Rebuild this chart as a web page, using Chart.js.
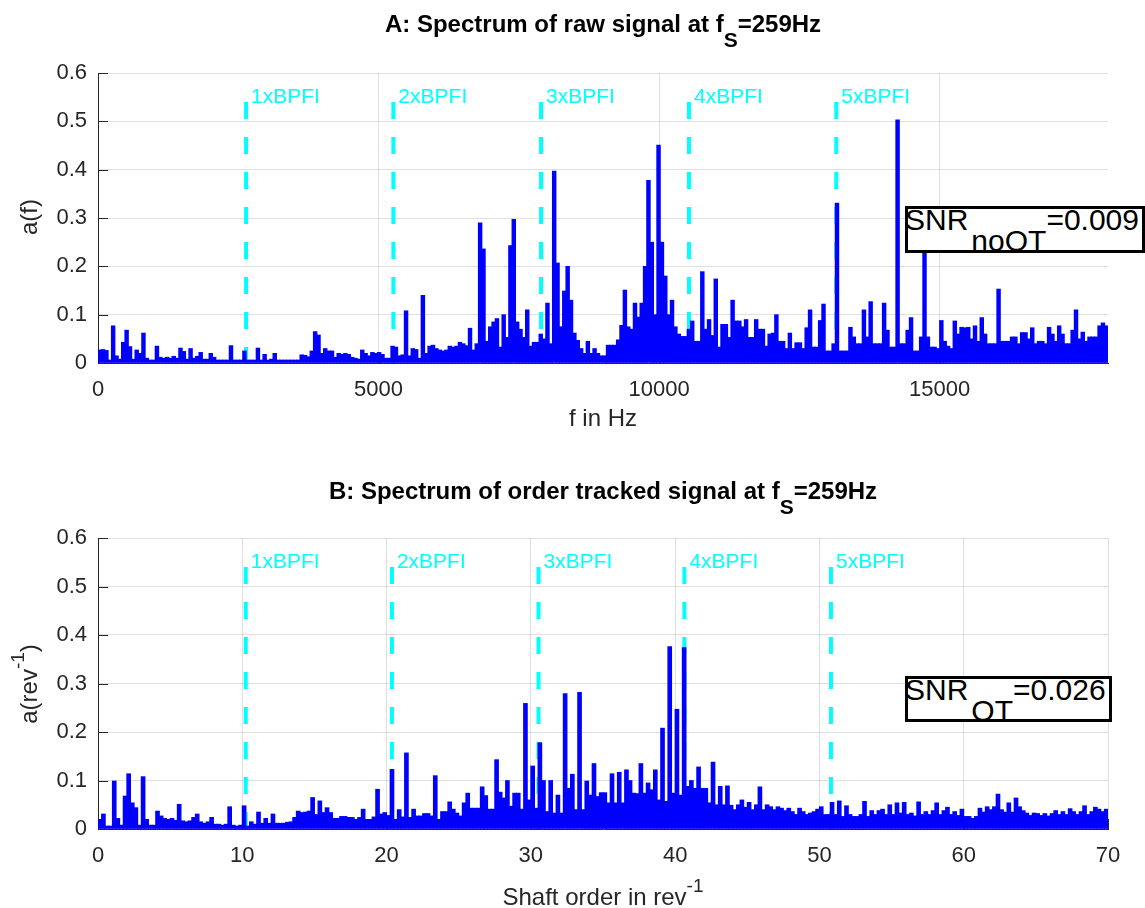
<!DOCTYPE html>
<html>
<head>
<meta charset="utf-8">
<script src="https://cdn.jsdelivr.net/npm/chart.js"></script>
<style>
  body { margin: 0; background: #fff; }
  #page { position: relative; width: 1145px; height: 908px; overflow: hidden; background: #fff;
          font-family: "Liberation Sans", Arial, sans-serif; }
  canvas { position: absolute; left: 0; }
  .title { position: absolute; left: 98px; width: 1010px; text-align: center; font: bold 24px/24px "Liberation Sans", Arial, sans-serif; color: #000; white-space: nowrap; }
  .title .sub { font-size: 21px; position: relative; top: 15px; }
  .xlabel { position: absolute; left: 98px; width: 1010px; text-align: center; font: 24px/24px "Liberation Sans", Arial, sans-serif; color: #262626; white-space: nowrap; }
  .ylabel { position: absolute; width: 300px; height: 24px; text-align: center; font: 24px/24px "Liberation Sans", Arial, sans-serif; color: #262626; transform: rotate(-90deg); white-space: nowrap; }
  .sup { font-size: 19px; position: relative; top: -13px; }
  .snr { position: absolute; box-sizing: border-box; border: 3px solid #000; background: #fff; overflow: hidden; }
  .snr div { position: absolute; left: -3px; top: -4px; font: 30px/30px "Liberation Sans", Arial, sans-serif; color: #000; white-space: nowrap; }
  .snr span { position: relative; top: 21px; margin-left: 3px; }
</style>
</head>
<body>
<div id="page">
  <canvas id="rawChart" width="1145" height="454" style="top:0"></canvas>
  <canvas id="otChart" width="1145" height="454" style="top:454px"></canvas>

  <div class="title" style="top:12px">A: Spectrum of raw signal at f<span class="sub">S</span>=259Hz</div>
  <div class="xlabel" style="top:406px">f in Hz</div>
  <div class="ylabel" style="left:-121px; top:205px">a(f)</div>
  <div class="snr" style="left:905px; top:206px; width:240px; height:47px"><div>SNR<span>noOT</span>=0.009</div></div>

  <div class="title" style="top:479px">B: Spectrum of order tracked signal at f<span class="sub">S</span>=259Hz</div>
  <div class="xlabel" style="top:885px">Shaft order in rev<span class="sup">-1</span></div>
  <div class="ylabel" style="left:-121px; top:672px">a(rev<span class="sup">-1</span>)</div>
  <div class="snr" style="left:905px; top:676px; width:207px; height:46px"><div>SNR<span>OT</span>=0.026</div></div>
</div>

<script>
// --- data ---
const rawBinHz = 60;          // width of one spectrum bin, Hz
const rawMaxHz = 18000;
const rawTicksHz = [0, 5000, 10000, 15000];
const rawAmp = [
  0.027, 0.028, 0.026, 0.006, 0.077, 0.015, 0.008, 0.043, 0.068, 0.034,
  0.008, 0.027, 0.02, 0.062, 0.01, 0.004, 0.006, 0.035, 0.012, 0.01,
  0.012, 0.01, 0.014, 0.01, 0.031, 0.024, 0.008, 0.03, 0.01, 0.014,
  0.022, 0.008, 0.008, 0.02, 0.012, 0.006, 0.004, 0.003, 0.003, 0.036,
  0.004, 0.003, 0.003, 0.025, 0.003, 0.005, 0.004, 0.031, 0.006, 0.018,
  0.005, 0.008, 0.02, 0.004, 0.003, 0.003, 0.003, 0.004, 0.003, 0.004,
  0.017, 0.016, 0.013, 0.025, 0.065, 0.058, 0.02, 0.03, 0.025, 0.025,
  0.012, 0.02, 0.018, 0.02, 0.018, 0.012, 0.01, 0.008, 0.027, 0.02,
  0.015, 0.022, 0.02, 0.022, 0.018, 0.01, 0.01, 0.035, 0.033, 0.015,
  0.017, 0.108, 0.015, 0.03, 0.028, 0.01, 0.14, 0.02, 0.035, 0.037,
  0.03, 0.027, 0.025, 0.027, 0.035, 0.033, 0.035, 0.043, 0.04, 0.036,
  0.072, 0.027, 0.04, 0.29, 0.236, 0.045, 0.075, 0.085, 0.092, 0.033,
  0.1, 0.053, 0.243, 0.297, 0.085, 0.07, 0.053, 0.11, 0.035, 0.043,
  0.043, 0.06, 0.05, 0.124, 0.04, 0.397, 0.207, 0.075, 0.149, 0.2,
  0.13, 0.062, 0.047, 0.03, 0.02, 0.045, 0.02, 0.03, 0.02, 0.015,
  0.015, 0.037, 0.037, 0.037, 0.048, 0.078, 0.151, 0.075, 0.07, 0.124,
  0.095, 0.124, 0.2, 0.378, 0.25, 0.1, 0.451, 0.25, 0.18, 0.1,
  0.13, 0.075, 0.06, 0.055, 0.055, 0.07, 0.087, 0.045, 0.045, 0.189,
  0.07, 0.09, 0.057, 0.174, 0.033, 0.08, 0.08, 0.053, 0.13, 0.087,
  0.087, 0.075, 0.09, 0.053, 0.053, 0.09, 0.07, 0.07, 0.035, 0.06,
  0.062, 0.1, 0.045, 0.045, 0.03, 0.062, 0.03, 0.042, 0.042, 0.03,
  0.073, 0.11, 0.033, 0.033, 0.088, 0.122, 0.025, 0.025, 0.04, 0.331,
  0.025, 0.025, 0.025, 0.074, 0.054, 0.04, 0.04, 0.11, 0.054, 0.127,
  0.04, 0.04, 0.04, 0.124, 0.068, 0.033, 0.033, 0.503, 0.04, 0.04,
  0.068, 0.094, 0.025, 0.025, 0.054, 0.26, 0.054, 0.033, 0.033, 0.03,
  0.088, 0.045, 0.035, 0.03, 0.087, 0.06, 0.074, 0.073, 0.074, 0.05,
  0.077, 0.045, 0.094, 0.06, 0.04, 0.04, 0.04, 0.153, 0.045, 0.045,
  0.045, 0.054, 0.054, 0.04, 0.063, 0.063, 0.05, 0.073, 0.04, 0.045,
  0.045, 0.04, 0.074, 0.06, 0.045, 0.077, 0.06, 0.04, 0.04, 0.068,
  0.11, 0.05, 0.064, 0.045, 0.054, 0.054, 0.054, 0.077, 0.083, 0.077
];
const rawBpfiHz = [2639, 5264, 7896, 10532, 13157];

const otBinOrder = 0.25;      // width of one order bin, rev^-1
const otMaxOrder = 70;
const otTicks = [0, 10, 20, 30, 40, 50, 60, 70];
const otAmp = [
  0.02, 0.031, 0.006, 0.005, 0.099, 0.022, 0.008, 0.068, 0.114, 0.054,
  0.044, 0.008, 0.108, 0.02, 0.008, 0.008, 0.037, 0.027, 0.022, 0.02,
  0.022, 0.018, 0.051, 0.017, 0.015, 0.017, 0.024, 0.031, 0.015, 0.012,
  0.015, 0.024, 0.01, 0.01, 0.008, 0.01, 0.046, 0.008, 0.006, 0.008,
  0.048, 0.006, 0.015, 0.01, 0.035, 0.012, 0.022, 0.012, 0.031, 0.012,
  0.012, 0.012, 0.014, 0.015, 0.024, 0.037, 0.034, 0.035, 0.037, 0.065,
  0.03, 0.058, 0.034, 0.044, 0.034, 0.022, 0.022, 0.026, 0.026, 0.024,
  0.024, 0.02, 0.024, 0.041, 0.02, 0.02, 0.025, 0.082, 0.031, 0.034,
  0.028, 0.123, 0.02, 0.04, 0.025, 0.157, 0.024, 0.041, 0.027, 0.027,
  0.032, 0.032, 0.027, 0.11, 0.02, 0.036, 0.036, 0.056, 0.041, 0.033,
  0.027, 0.054, 0.074, 0.043, 0.043, 0.043, 0.087, 0.069, 0.041, 0.041,
  0.143, 0.076, 0.064, 0.1, 0.047, 0.074, 0.074, 0.041, 0.259, 0.06,
  0.13, 0.043, 0.178, 0.1, 0.036, 0.1, 0.033, 0.07, 0.033, 0.279,
  0.084, 0.113, 0.04, 0.282, 0.04, 0.099, 0.07, 0.135, 0.067, 0.075,
  0.075, 0.054, 0.114, 0.054, 0.117, 0.054, 0.122, 0.1, 0.074, 0.073,
  0.135, 0.074, 0.095, 0.081, 0.122, 0.06, 0.208, 0.057, 0.376, 0.074,
  0.247, 0.07, 0.374, 0.088, 0.1, 0.084, 0.128, 0.084, 0.084, 0.054,
  0.138, 0.05, 0.088, 0.05, 0.089, 0.049, 0.04, 0.05, 0.06, 0.045,
  0.055, 0.04, 0.05, 0.087, 0.04, 0.05, 0.046, 0.04, 0.046, 0.043,
  0.038, 0.043, 0.036, 0.03, 0.043, 0.036, 0.03, 0.033, 0.036, 0.041,
  0.046, 0.03, 0.03, 0.055, 0.03, 0.058, 0.026, 0.048, 0.03, 0.026,
  0.026, 0.03, 0.057, 0.026, 0.038, 0.03, 0.038, 0.041, 0.03, 0.05,
  0.03, 0.054, 0.033, 0.055, 0.03, 0.033, 0.027, 0.056, 0.03, 0.036,
  0.03, 0.038, 0.054, 0.03, 0.038, 0.045, 0.03, 0.036, 0.028, 0.041,
  0.026, 0.026, 0.022, 0.026, 0.043, 0.035, 0.046, 0.04, 0.046, 0.072,
  0.04, 0.035, 0.054, 0.035, 0.064, 0.046, 0.038, 0.033, 0.028, 0.033,
  0.032, 0.028, 0.032, 0.027, 0.032, 0.038, 0.03, 0.036, 0.03, 0.042,
  0.036, 0.03, 0.036, 0.048, 0.03, 0.036, 0.045, 0.041, 0.036, 0.041
];
const otBpfiOrder = [10.24, 20.37, 30.53, 40.64, 50.8];

const ampTicks = [0, 0.1, 0.2, 0.3, 0.4, 0.5, 0.6];
const bpfiLabels = ['1xBPFI', '2xBPFI', '3xBPFI', '4xBPFI', '5xBPFI'];

// --- styling ---
const fontFamily = '"Liberation Sans", Arial, sans-serif';
const axisColor = '#262626';
const gridColor = 'rgba(38,38,38,0.15)';
const traceColor = '#0000FF';
const bpfiColor = '#00FFFF';
const bpfiLineTop = 0.54;
const bpfiLabelAt = 0.55;

Chart.defaults.font.family = fontFamily;

// inward tick marks + dashed BPFI harmonics (drawn under the spectrum)
const spectrumDecor = {
  id: 'spectrumDecor',
  beforeDatasetsDraw(chart, args, opts) {
    const { ctx, chartArea } = chart;
    const x = chart.scales.x, y = chart.scales.y;
    ctx.save();
    ctx.strokeStyle = axisColor;
    ctx.lineWidth = 1;
    y.ticks.forEach(t => {
      const py = Math.round(y.getPixelForValue(t.value)) + 0.5;
      ctx.beginPath();
      ctx.moveTo(chartArea.left, py);
      ctx.lineTo(chartArea.left + 10, py);
      ctx.stroke();
    });
    x.ticks.forEach(t => {
      const px = Math.round(x.getPixelForValue(t.value)) + 0.5;
      ctx.beginPath();
      ctx.moveTo(px, chartArea.bottom);
      ctx.lineTo(px, chartArea.bottom - 10);
      ctx.stroke();
    });

    ctx.strokeStyle = bpfiColor;
    ctx.lineWidth = 4;
    ctx.setLineDash([17, 18]);
    opts.lines.forEach(v => {
      const px = x.getPixelForValue(v);
      ctx.beginPath();
      ctx.moveTo(px, y.getPixelForValue(bpfiLineTop));
      ctx.lineTo(px, y.getPixelForValue(0));
      ctx.stroke();
    });
    ctx.setLineDash([]);

    ctx.fillStyle = bpfiColor;
    ctx.font = '21px ' + fontFamily;
    ctx.textBaseline = 'middle';
    ctx.textAlign = 'left';
    opts.lines.forEach((v, k) => {
      ctx.fillText(bpfiLabels[k], x.getPixelForValue(v) + 5, y.getPixelForValue(bpfiLabelAt));
    });
    ctx.restore();
  }
};

function makeSpectrum(canvasId, cfg) {
  const points = cfg.amp.map((a, i) => ({ x: (i + 0.5) * cfg.bin, y: a }));
  const tickFont = { family: fontFamily, size: 22 };
  return new Chart(document.getElementById(canvasId), {
    type: 'bar',
    data: {
      datasets: [{
        data: points,
        backgroundColor: traceColor,
        borderWidth: 0,
        barThickness: cfg.barPx,
        minBarLength: 3
      }]
    },
    options: {
      responsive: false,
      animation: false,
      layout: { padding: { left: 38, right: 37, top: cfg.padTop, bottom: 0 } },
      plugins: {
        legend: { display: false },
        tooltip: { enabled: false },
        spectrumDecor: { lines: cfg.lines }
      },
      scales: {
        x: {
          type: 'linear',
          min: 0,
          max: cfg.xMax,
          offset: false,
          afterBuildTicks: s => { s.ticks = cfg.xTicks.map(v => ({ value: v })); },
          afterFit: s => { s.height = cfg.xAxisHeight; },
          grid: { color: gridColor, drawTicks: false, offset: false },
          border: { color: axisColor, width: 1 },
          ticks: {
            font: tickFont, color: axisColor, padding: 14,
            maxRotation: 0, autoSkip: false,
            callback: v => String(v)
          }
        },
        y: {
          min: 0,
          max: 0.6,
          afterBuildTicks: s => { s.ticks = ampTicks.map(v => ({ value: v })); },
          afterFit: s => { s.width = 60; },
          grid: { color: gridColor, drawTicks: false },
          border: { color: axisColor, width: 1 },
          ticks: {
            font: tickFont, color: axisColor, padding: 11,
            callback: v => (v === 0 ? '0' : v.toFixed(1))
          }
        }
      }
    },
    plugins: [spectrumDecor]
  });
}

makeSpectrum('rawChart', {
  amp: rawAmp, bin: rawBinHz, xMax: rawMaxHz, xTicks: rawTicksHz,
  lines: rawBpfiHz, padTop: 73, xAxisHeight: 91, barPx: 3.8
});

makeSpectrum('otChart', {
  amp: otAmp, bin: otBinOrder, xMax: otMaxOrder, xTicks: otTicks,
  lines: otBpfiOrder, padTop: 84, xAxisHeight: 79, barPx: 4
});
</script>
</body>
</html>
